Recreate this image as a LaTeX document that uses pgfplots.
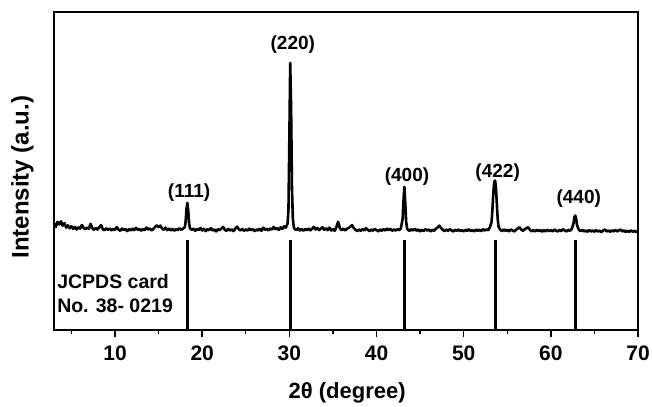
\documentclass[border=0pt]{standalone}
\usepackage{pgfplots}
\pgfplotsset{compat=1.18}
\usepackage{fontspec}
\setmainfont{Liberation Sans}
\pgfplotstableread{
x y
3.0 33.5
3.2 32.4
3.4 34.0
3.6 33.2
3.8 34.2
4.0 32.8
4.2 33.6
4.4 32.2
4.6 32.9
4.8 32.0
5.0 32.6
5.2 31.8
5.4 32.4
5.6 31.6
5.8 32.3
6.0 31.9
6.2 33.0
6.4 32.1
6.6 31.7
6.8 32.2
7.0 31.8
7.2 33.4
7.4 32.0
7.6 31.5
7.8 32.1
8.0 31.6
8.2 32.3
8.4 33.0
8.6 31.7
8.8 31.4
9.0 32.0
9.2 31.5
9.4 31.9
9.6 31.3
9.8 31.8
10.0 31.5
10.2 32.4
10.4 31.6
10.6 31.2
10.8 31.9
11.0 31.4
11.2 31.8
11.4 31.1
11.6 31.7
11.8 31.3
12.0 31.9
12.2 31.4
12.4 32.1
12.6 31.5
12.8 31.8
13.0 31.2
13.2 31.7
13.4 31.4
13.6 32.2
13.8 31.6
14.0 31.9
14.2 31.3
14.4 31.8
14.6 32.4
14.8 32.9
15.0 32.3
15.2 32.8
15.4 31.9
15.6 31.5
15.8 32.2
16.0 31.4
16.2 31.9
16.4 31.3
16.6 31.8
16.8 31.2
17.0 31.7
17.2 31.4
17.4 32.0
17.6 31.5
17.8 31.9
18.0 32.3
18.1 34.0
18.2 38.0
18.3 40.0
18.4 37.5
18.5 33.5
18.6 32.0
18.8 31.5
19.0 31.9
19.2 31.2
19.4 31.8
19.6 31.4
19.8 32.1
20.0 31.3
20.2 31.8
20.4 31.1
20.6 31.7
20.8 31.4
21.0 32.0
21.2 31.3
21.4 31.6
21.6 31.0
21.8 31.7
22.0 31.4
22.2 31.9
22.4 32.4
22.6 31.5
22.8 31.2
23.0 31.8
23.2 31.3
23.4 31.6
23.6 31.1
23.8 31.9
24.0 32.5
24.2 31.7
24.4 31.3
24.6 31.8
24.8 31.2
25.0 31.6
25.2 31.3
25.4 31.9
25.6 31.4
25.8 31.7
26.0 31.1
26.2 31.6
26.4 31.3
26.6 31.8
26.8 31.2
27.0 32.2
27.2 31.5
27.4 31.8
27.6 31.3
27.8 31.9
28.0 31.6
28.2 32.4
28.4 31.7
28.6 32.0
28.8 31.5
29.0 32.3
29.2 31.8
29.4 32.6
29.6 32.2
29.8 33.5
29.9 38
30.0 60
30.1 84
30.2 70
30.3 45
30.4 35
30.5 32.5
30.6 31.8
30.8 31.4
31.0 32.0
31.2 31.3
31.4 31.8
31.6 31.2
31.8 31.7
32.0 31.4
32.2 31.9
32.4 31.3
32.6 31.8
32.8 32.4
33.0 31.6
33.2 32.1
33.4 31.4
33.6 31.9
33.8 32.3
34.0 31.5
34.2 32.0
34.4 31.4
34.6 32.2
34.8 31.3
35.0 31.7
35.2 31.2
35.4 32.4
35.6 34.0
35.8 32.0
36.0 31.4
36.2 31.9
36.4 31.3
36.6 31.8
36.8 32.1
37.0 32.5
37.2 33.0
37.4 32.0
37.6 31.5
37.8 31.1
38.0 31.6
38.2 31.2
38.4 31.7
38.6 31.3
38.8 32.0
39.0 31.5
39.2 31.1
39.4 31.6
39.6 31.2
39.8 31.8
40.0 31.4
40.2 31.0
40.4 31.6
40.6 31.2
40.8 31.7
41.0 31.3
41.2 31.9
41.4 31.4
41.6 31.8
41.8 31.2
42.0 31.6
42.2 31.3
42.4 31.7
42.6 31.4
42.8 32.0
43.0 35
43.1 41
43.2 45
43.3 40
43.4 34
43.5 32
43.6 31.5
43.8 31.2
44.0 31.7
44.2 31.3
44.4 31.8
44.6 31.2
44.8 31.6
45.0 31.0
45.2 31.5
45.4 31.1
45.6 31.7
45.8 31.3
46.0 31.6
46.2 31.0
46.4 31.5
46.6 31.2
46.8 31.8
47.0 32.2
47.2 32.8
47.4 32.1
47.6 31.5
47.8 31.1
48.0 31.6
48.2 31.2
48.4 31.7
48.6 31.3
48.8 31.0
49.0 31.5
49.2 31.2
49.4 31.6
49.6 31.1
49.8 31.4
50.0 31.0
50.2 31.5
50.4 31.2
50.6 31.7
50.8 31.1
51.0 31.4
51.2 31.0
51.4 31.6
51.6 31.2
51.8 31.5
52.0 31.1
52.2 31.7
52.4 31.3
52.6 31.6
52.8 31.4
53.0 32.2
53.2 34
53.3 38
53.4 43
53.5 46.5
53.6 47
53.7 45
53.8 40
53.9 35
54.0 32.5
54.2 31.5
54.4 31.1
54.6 31.6
54.8 31.2
55.0 31.5
55.2 31.0
55.4 31.6
55.6 31.3
55.8 31.0
56.0 31.5
56.2 31.9
56.4 32.3
56.6 31.6
56.8 31.2
57.0 31.7
57.2 32.0
57.4 32.3
57.6 31.5
57.8 31.0
58.0 31.4
58.2 31.0
58.4 31.5
58.6 31.1
58.8 31.4
59.0 30.9
59.2 31.4
59.4 31.0
59.6 31.5
59.8 31.1
60.0 31.4
60.2 31.0
60.4 31.6
60.6 31.2
60.8 31.0
61.0 31.5
61.2 31.1
61.4 31.7
61.6 31.3
61.8 31.0
62.0 31.5
62.2 31.2
62.4 31.8
62.6 33.5
62.7 35.5
62.8 36
62.9 35
63.0 33
63.2 31.6
63.4 31.1
63.6 31.5
63.8 31.0
64.0 31.3
64.2 30.9
64.4 31.4
64.6 31.0
64.8 31.3
65.0 30.9
65.2 31.4
65.4 31.0
65.6 31.2
65.8 30.8
66.0 31.3
66.2 31.6
66.4 31.0
66.6 31.3
66.8 30.9
67.0 31.3
67.2 31.0
67.4 31.5
67.6 31.0
67.8 31.3
68.0 31.6
68.2 31.0
68.4 31.3
68.6 30.8
68.8 31.2
69.0 30.9
69.2 31.3
69.4 30.9
69.6 31.2
69.8 30.8
70.0 31.1
}\xrd
\pgfplotstableread{
x y
18.3 28.3
30.1 28.3
43.2 28.3
53.6 28.3
62.8 28.3
}\jcpds
\begin{document}
\begin{tikzpicture}[font=\fontsize{19.5}{24}\selectfont\bfseries]
\begin{axis}[
  name=ax,
  scale only axis,
  width=584pt, height=318pt,
  xmin=3, xmax=70, ymin=0, ymax=100,
  axis line style={line width=1.6pt},
  xtick={10,20,...,70},
  minor xtick={5,15,...,65},
  ytick=\empty,
  xtick pos=bottom,
  tick align=outside,
  major tick length=7pt, minor tick length=4pt,
  every tick/.style={line width=1.4pt, black},
  /pgf/number format/assume math mode=true,
  tick label style={font=\fontsize{21}{24}\selectfont\bfseries},
  xticklabel style={yshift=-5pt},
  xlabel={2θ (degree)},
  ylabel={Intensity (a.u.)},
  every axis x label/.style={at={(rel axis cs:0.502,0)}, yshift=-63pt, anchor=center, font=\fontsize{22}{26}\selectfont\bfseries},
  every axis y label/.style={at={(rel axis cs:0,0.481)}, xshift=-31.5pt, rotate=90, anchor=center, font=\fontsize{24}{28}\selectfont\bfseries},
  clip=false,
]
\addplot[black, line width=2.6pt, line join=round] table[x=x,y=y]{\xrd};
\addplot[ycomb, black, line width=3pt, mark=none] table[x=x,y=y]{\jcpds};
\node[font=\fontsize{19}{22}\selectfont\bfseries] at (axis cs:18.5,43.1) {(111)};
\node[font=\fontsize{19}{22}\selectfont\bfseries] at (axis cs:30.4,89.6) {(220)};
\node[font=\fontsize{19}{22}\selectfont\bfseries] at (axis cs:43.5,48.1) {(400)};
\node[font=\fontsize{19}{22}\selectfont\bfseries] at (axis cs:53.9,49.4) {(422)};
\node[font=\fontsize{19}{22}\selectfont\bfseries] at (axis cs:63.2,41.2) {(440)};
\node[anchor=west, align=left, inner sep=0pt] at (axis cs:3.35,11.5) {JCPDS card\\No. 38- 0219};
\end{axis}
\pgfresetboundingbox
\path[use as bounding box] ([shift={(-54pt,-76pt)}]ax.south west) rectangle ([shift={(14pt,12pt)}]ax.north east);
\end{tikzpicture}
\end{document}
